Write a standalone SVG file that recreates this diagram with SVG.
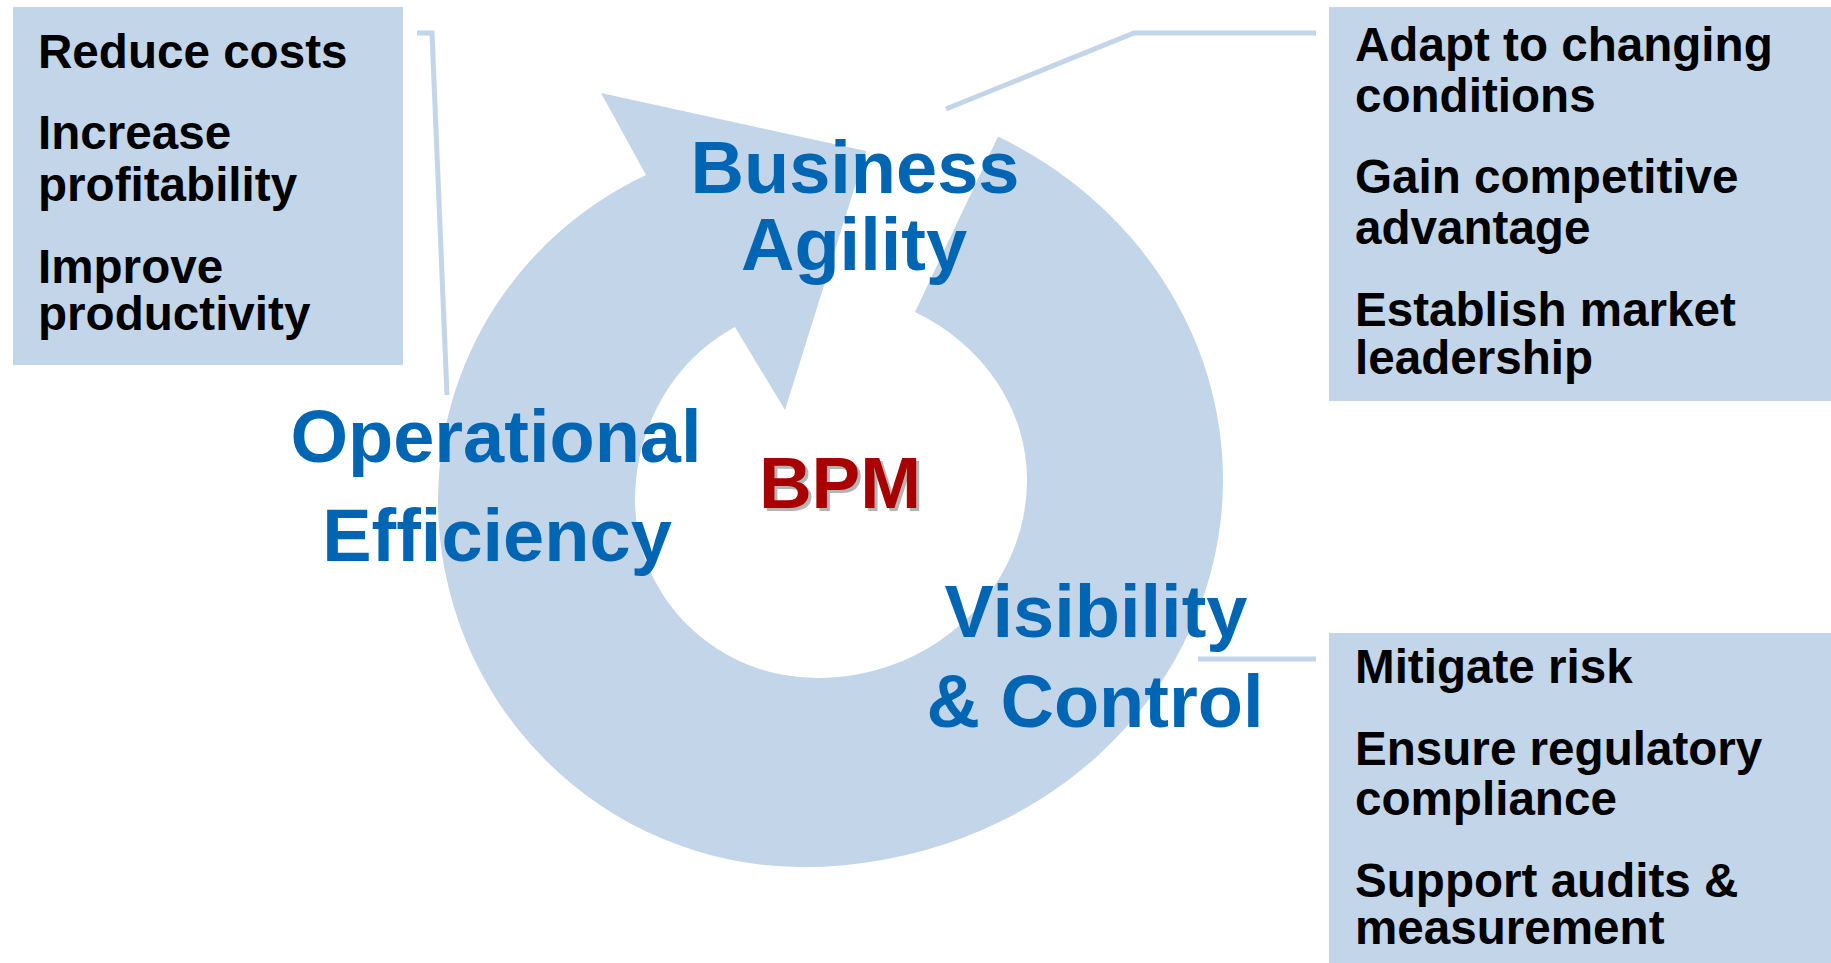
<svg xmlns="http://www.w3.org/2000/svg" width="1831" height="963" viewBox="0 0 1831 963">
<style>
.box{fill:#C3D5E8}
.ring{fill:#C3D5E8}
.conn{fill:none;stroke:#C3D5E8;stroke-width:5}
.item{font-family:"Liberation Sans",Arial,sans-serif;font-weight:bold;font-size:47.6px;fill:#000}
.head{font-family:"Liberation Sans",Arial,sans-serif;font-weight:bold;font-size:74px;fill:#0066B3;text-anchor:middle}
.bpm{font-family:"Liberation Sans",Arial,sans-serif;font-weight:bold;font-size:73px;text-anchor:middle}
</style>
<rect width="1831" height="963" fill="#fff"/>
<g id="cycle-arrow">
<path class="ring" d="M998,136.4 A420,388 0 0 1 1223,480 A420,387 0 0 1 803,867 A365,367 0 0 1 438,500 A365,360 0 0 1 646,175 L601,93 L866,151 L785,410 L734.9,326.9 A182,194 0 0 0 635,500 A182,178 0 0 0 817,678 A210,198 0 0 0 1027,480 A210,190 0 0 0 915,312 Z"/>
</g>
<g id="connectors">
<polyline class="conn" points="417,33 432,33 447,395"/>
<polyline class="conn" points="946,109 1134,33 1316,33"/>
<polyline class="conn" points="1198,659 1316,659"/>
</g>
<g id="box-efficiency">
<rect class="box" x="13" y="7" width="390" height="358"/>
<text class="item" x="38" y="68">Reduce costs</text>
<text class="item" x="38" y="149">Increase</text>
<text class="item" x="38" y="201">profitability</text>
<text class="item" x="38" y="283">Improve</text>
<text class="item" x="38" y="330">productivity</text>
</g>
<g id="box-agility">
<rect class="box" x="1329" y="7" width="502" height="394"/>
<text class="item" x="1355" y="61">Adapt to changing</text>
<text class="item" x="1355" y="112">conditions</text>
<text class="item" x="1355" y="193">Gain competitive</text>
<text class="item" x="1355" y="244">advantage</text>
<text class="item" x="1355" y="326">Establish market</text>
<text class="item" x="1355" y="374">leadership</text>
</g>
<g id="box-visibility">
<rect class="box" x="1329" y="633" width="502" height="330"/>
<text class="item" x="1355" y="683">Mitigate risk</text>
<text class="item" x="1355" y="765">Ensure regulatory</text>
<text class="item" x="1355" y="815">compliance</text>
<text class="item" x="1355" y="897">Support audits &amp;</text>
<text class="item" x="1355" y="944">measurement</text>
</g>
<g id="label-agility">
<text class="head" x="855" y="193">Business</text>
<text class="head" x="854" y="270">Agility</text>
</g>
<g id="label-efficiency">
<text class="head" x="496" y="462">Operational</text>
<text class="head" x="497" y="561">Efficiency</text>
</g>
<g id="label-visibility">
<text class="head" x="1096" y="637">Visibility</text>
<text class="head" x="1095" y="727">&amp; Control</text>
</g>
<g id="center-bpm">
<text class="bpm" x="843" y="511" fill="#B4B4B4">BPM</text>
<text class="bpm" x="840" y="508" fill="#A80000">BPM</text>
</g>
</svg>
